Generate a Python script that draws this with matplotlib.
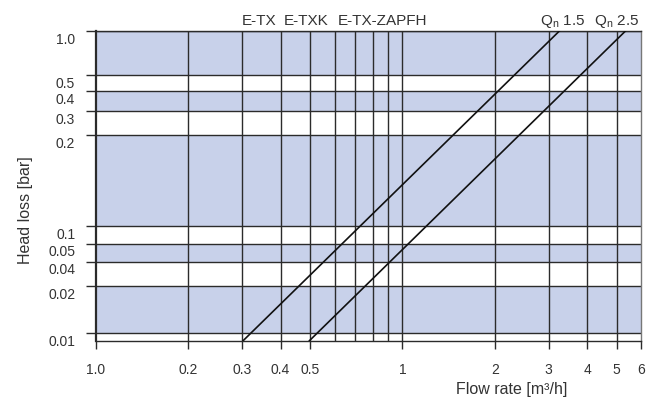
"""Head loss vs. flow rate chart for E-TX water meters (Qn 1.5 / Qn 2.5)."""

import matplotlib

matplotlib.use("Agg")

import matplotlib.pyplot as plt
import matplotlib.transforms as mtransforms
import numpy as np

# data
X_TICKS = [0.1, 0.2, 0.3, 0.4, 0.5, 1, 2, 3, 4, 5, 6]
X_TICK_LABELS = ["1.0", "0.2", "0.3", "0.4", "0.5", "1", "2", "3", "4", "5", "6"]
X_GRID = [0.2, 0.3, 0.4, 0.5, 0.6, 0.7, 0.8, 0.9, 1, 2, 3, 4, 5]
Y_TICKS = [0.01, 0.02, 0.04, 0.05, 0.1, 0.2, 0.3, 0.4, 0.5, 1.0]
Y_TICK_LABELS = ["0.01", "0.02", "0.04", "0.05", "0.1", "0.2", "0.3", "0.4", "0.5", "1.0"]
BANDS = [(0.01, 0.02), (0.04, 0.05), (0.1, 0.2), (0.3, 0.4), (0.5, 1.0)]
Y_BOTTOM = 0.0089

QN15_FLOW = [0.302, 3.25]
QN25_FLOW = [0.497, 5.34]
LINE_LOSS = [Y_BOTTOM, 1.0]

METER_LABELS = ["E-TX", "E-TXK", "E-TX-ZAPFH"]
METER_X = [0.30, 0.411, 0.614]
QN_LABELS = [r"Q$_\mathrm{n}$ 1.5", r"Q$_\mathrm{n}$ 2.5"]
QN_X = [2.80, 4.21]

# the printed y axis is not a true log axis: anchor values to their
# fractional height on the plot
_ANCHOR_VALS = [Y_BOTTOM] + Y_TICKS
_ANCHOR_PX = [340.7, 333, 286, 261.5, 243.5, 226, 135, 111, 91, 75, 31]
_LOG_VALS = np.log10(_ANCHOR_VALS)
_FRAC = (340.7 - np.array(_ANCHOR_PX)) / (340.7 - 31)


def _fwd(y):
    y = np.asarray(y, dtype=float)
    return np.interp(np.log10(np.maximum(y, 1e-12)), _LOG_VALS, _FRAC)


def _inv(f):
    return 10 ** np.interp(np.asarray(f, dtype=float), _FRAC, _LOG_VALS)


FONT = ["Liberation Sans", "DejaVu Sans"]
plt.rcParams["font.family"] = FONT
plt.rcParams["mathtext.fontset"] = "custom"
plt.rcParams["mathtext.rm"] = FONT[0]
plt.rcParams["mathtext.it"] = FONT[0]

BLUE = "#c8d1ea"
GRID = "#2b2b2b"
TEXT = "#333333"

fig = plt.figure(figsize=(6.57, 4.0), dpi=100)
ax = fig.add_axes([96 / 657, 59.3 / 400, 545 / 657, 309.7 / 400])
ax.set_xscale("log")
ax.set_yscale("function", functions=(_fwd, _inv))
ax.set_xlim(0.1, 6)
ax.set_ylim(Y_BOTTOM, 1.0)

for lo, hi in BANDS:
    ax.axhspan(lo, hi, color=BLUE, lw=0, zorder=0)
for x in X_GRID:
    ax.axvline(x, color=GRID, lw=1.0, zorder=1)
for y in Y_TICKS:
    ax.axhline(y, color=GRID, lw=1.0, zorder=1)

ax.plot(QN15_FLOW, LINE_LOSS, color="#111111", lw=1.2, zorder=3)
ax.plot(QN25_FLOW, LINE_LOSS, color="#111111", lw=1.2, zorder=3)

ax.set_xticks(X_TICKS)
ax.set_xticklabels(X_TICK_LABELS)
ax.xaxis.set_minor_locator(matplotlib.ticker.NullLocator())
ax.set_yticks(Y_TICKS)
ax.set_yticklabels(Y_TICK_LABELS)
ax.yaxis.set_minor_locator(matplotlib.ticker.NullLocator())
ax.tick_params(axis="x", direction="out", length=6, width=1, color=GRID,
               labelsize=10, labelcolor=TEXT, pad=10)
ax.tick_params(axis="y", direction="out", length=7, width=1, color=GRID,
               labelsize=10, labelcolor=TEXT, pad=8)
shift = mtransforms.ScaledTranslation(0, -2 / 100, fig.dpi_scale_trans)
for lbl in ax.get_yticklabels():
    lbl.set_va("top")
    lbl.set_transform(lbl.get_transform() + shift)

for side in ["left", "bottom", "top"]:
    ax.spines[side].set_color(GRID)
    ax.spines[side].set_linewidth(1.0)
ax.spines["left"].set_linewidth(1.6)
ax.spines["right"].set_color("#777777")
ax.spines["right"].set_linewidth(1.0)

ax.set_xlabel("Flow rate [m³/h]", fontsize=11.5, color=TEXT)
ax.xaxis.set_label_coords(0.763, -0.159)
ax.xaxis.label.set_va("center")
ax.set_ylabel("Head loss [bar]", fontsize=11.5, color=TEXT)
ax.yaxis.set_label_coords(-0.130, 0.422)
ax.yaxis.label.set_va("center")

top = mtransforms.blended_transform_factory(ax.transData, ax.transAxes)
for name, x in zip(METER_LABELS, METER_X):
    ax.text(x, 1.019, name, transform=top, ha="left", va="baseline",
            fontsize=11, color=TEXT)
for name, x in zip(QN_LABELS, QN_X):
    ax.text(x, 1.019, name, transform=top, ha="left", va="baseline",
            fontsize=11, color=TEXT)

fig.savefig("out.png", dpi=100)
